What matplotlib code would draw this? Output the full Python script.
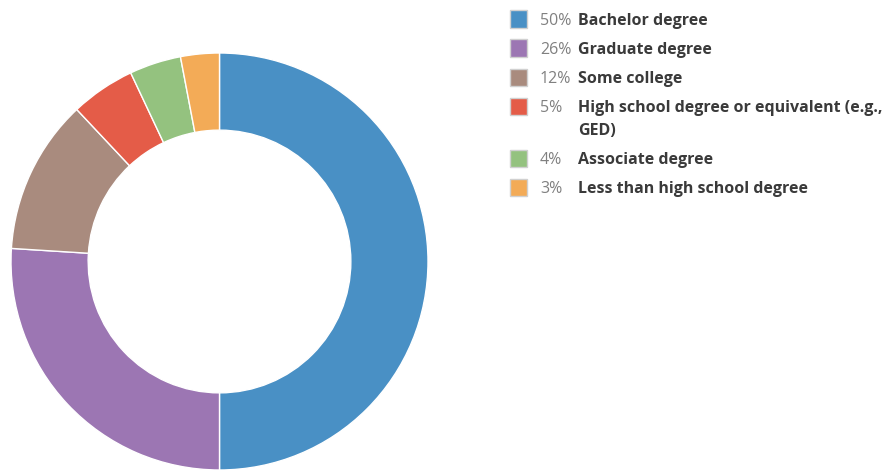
import matplotlib.pyplot as plt
from matplotlib.patches import Rectangle

labels = ['Bachelor degree', 'Graduate degree', 'Some college',
          'High school degree or equivalent (e.g.,\nGED)', 'Associate degree',
          'Less than high school degree']
values = [50, 26, 12, 5, 4, 3]
pct_labels = ['50%', '26%', '12%', '5%', '4%', '3%']
colors = ['#4990c5', '#9c76b3', '#a98b7e', '#e45c48', '#94c27f', '#f3ab57']

W, H = 888, 472
fig = plt.figure(figsize=(W / 100, H / 100), dpi=100)

# donut
cx, cy, r = 219.5, 210.5, 208.5
ax = fig.add_axes([(cx - r) / W, (cy - r) / H, 2 * r / W, 2 * r / H])
ax.pie(values, colors=colors, startangle=90, counterclock=False, radius=1,
       wedgeprops=dict(width=0.37, edgecolor='white', linewidth=1))
ax.set_xlim(-1, 1)
ax.set_ylim(-1, 1)
ax.set_aspect('equal')
ax.axis('off')

# legend drawn by hand
row_y = [19, 48, 77, 106, 158, 187]
for i, (lab, pct, col) in enumerate(zip(labels, pct_labels, colors)):
    y = row_y[i]
    fig.patches.append(Rectangle((510 / W, 1 - (y + 8.5) / H), 17 / W, 17 / H,
                                 transform=fig.transFigure, facecolor=col,
                                 edgecolor='#d0d0d0', linewidth=1))
    fig.text(540 / W, 1 - (y + 6) / H, pct, fontsize=11.5, family='Open Sans',
             color='#808080', va='baseline', ha='left')
    for k, line in enumerate(lab.split('\n')):
        fig.text(578 / W, 1 - (y + 6 + 23 * k) / H, line, fontsize=11.5,
                 family='Open Sans', fontweight='bold', color='#3a3a3a',
                 va='baseline', ha='left')

fig.savefig('out.png', dpi=100)
